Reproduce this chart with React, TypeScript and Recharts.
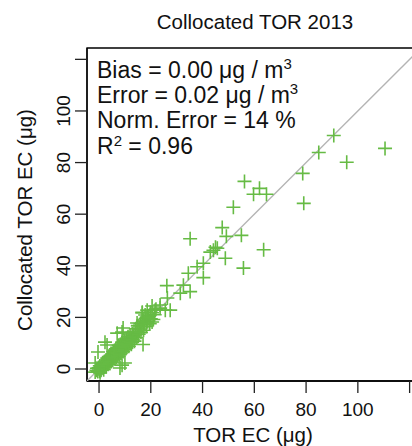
import { ScatterChart, Scatter, XAxis, YAxis, ReferenceArea } from 'recharts';

// TOR EC (x) vs collocated TOR EC (y)
const clusterX = [
  -1.5, -1, -0.8, -0.5, -0.2, 0, 0.2, 0.3, 0.5, 0.8, 1, 1.1, 1.3, 1.5, 1.6, 1.8, 2, 2, 2.2, 2.4, 2.5, 2.7, 2.8, 3, 3,
  3.2, 3.3, 3.5, 3.6, 3.8, 4, 4, 4.2, 4.4, 4.5, 4.7, 4.8, 5, 5, 5.2, 5.4, 5.5, 5.7, 5.8, 6, 6, 6.2, 6.4, 6.5, 6.6, 6.8,
  7, 7, 7.2, 7.3, 7.5, 7.6, 7.8, 8, 8,
  8.2, 8.4, 8.5, 8.7, 8.9, 9, 9.2, 9.3, 9.5, 9.7, 9.8, 10, 10, 10.3, 10.5, 10.6, 10.8, 11, 11.2, 11.4, 11.5, 11.8,
  12, 12.1, 12.4, 12.5, 12.8, 13, 13.2, 13.5, 13.7, 14,
  14.2, 14.5, 14.8, 15, 15.3, 15.6, 16, 16.2, 16.5, 17, 17.2, 17.6, 18, 18.3, 18.8, 19.2, 19.6, 20, 20.5, 21, 21.5, 22,
];
const clusterY = [
  -1.2, -0.5, 0.3, -1, 0.5, 0, -0.8, 1.2, 0.2, -0.5, 1, 0.3, 2, 1.2, 0.4, -0.3, 2.4, 1.5, 0.8, 3, 1.8, 2.6, 1, 3.5, 2.2,
  4.2, 2.9, 1.8, 3.6, 4.8, 3.1, 4.2, 2.4, 5.2, 3.8, 4.5, 2.9, 5.8, 4.6, 3.5, 5.2, 6.6, 4.1, 5.8, 7.2, 5, 3.9, 6.3, 7.8, 5.4, 4.6,
  7, 8.4, 6, 4.9, 7.7, 9.2, 6.5, 5.5, 8.3,
  7.1, 9.5, 6.2, 8.8, 7.6, 10.4, 8.2, 6.8, 9.6, 11.2, 8.6, 7.5, 10, 9, 11.8, 8.2, 10.5, 9.4, 12.5, 10.8, 8.8, 11.6,
  13.2, 10.2, 12, 9.6, 13.8, 11.4, 12.6, 14.5, 10.8, 13.2,
  15.6, 12.2, 14.4, 16.8, 13.5, 15.5, 17.6, 14.2, 16.4, 18.5, 15, 17.2, 19.6, 16.5, 18.3, 20.6, 17.6, 19.5, 21.8, 19.2, 21, 23.2,
];

const outlierX = [
  26.2, 31.4, 32.6, 35.2, 26.4, 23.6, 25.6, 27.5, 20.5, 19.8, 16.7, 17.8, 14.7, 8.9, 7, 9.3, 17, 12.8, 2.3, 3.1, -0.4,
  10, 8.1, 8.9, 0.4, -1.5, 23.6, 21.7, 18.6, 16.7, 18.6, 17, 20.5,
  35.2, 37.9, 34.5, 40.3, 40.3, 43, 44.2, 45.7, 45, 48.8, 47.6, 49.2, 55, 63.6, 55.8, 51.9, 56.2, 59.7, 62, 64.7,
  78.7, 79.1, 84.9, 90.7, 95.7, 110.5,
];
const outlierY = [
  32.3, 29.4, 32.5, 30, 27.5, 24.8, 22.8, 22.8, 24.4, 22, 21.7, 20.9, 17.8, 14.3, 13.9, 15.9, 9.5, 10.4, 10.4, 9.3, 6.6,
  2.3, 0.4, 1.5, -1.5, 2.3, 23.6, 22.8, 22.8, 22, 20.1, 19, 18.2,
  50.5, 39.6, 37.1, 41, 35.4, 45.3, 46, 46.8, 47.2, 42.9, 54.8, 51.4, 51.8, 46.2, 39.1, 62.7, 72.7, 67.7, 70, 67.7,
  75.8, 64.2, 83.9, 90.5, 80.1, 85.5,
];

const AXIS_TICKS = [0, 20, 40, 60, 80, 100, 120];
const LABELLED_TICKS = [0, 20, 40, 60, 80, 100];
const DOMAIN: [number, number] = [-4.65, 124.4];

const points = [
  ...clusterX.map((x, i) => ({ x, y: clusterY[i] })),
  ...outlierX.map((x, i) => ({ x, y: outlierY[i] })),
];
const oneToOne = [
  { x: DOMAIN[0], y: DOMAIN[0] },
  { x: DOMAIN[1], y: DOMAIN[1] },
];

const FONT = '"Liberation Sans", Arial, Helvetica, sans-serif';
const GREEN = '#66bb44';

function Cross({ cx, cy }: { cx?: number; cy?: number }) {
  if (cx == null || cy == null) return <g />;
  return (
    <path
      d={`M${cx - 7},${cy}H${cx + 7}M${cx},${cy - 7}V${cy + 7}`}
      stroke={GREEN}
      strokeWidth={1.6}
      fill="none"
    />
  );
}

// R drops the last label (120) because it falls on the plot edge
function XTick({ x, payload }: { x?: number; payload?: { value: number } }) {
  if (!payload || !LABELLED_TICKS.includes(payload.value)) return <g />;
  return (
    <text x={x} y={416} textAnchor="middle" fontSize={19} fontFamily={FONT} fill="#111">
      {payload.value}
    </text>
  );
}

function YTick({ y, payload }: { y?: number; payload?: { value: number } }) {
  if (!payload || !LABELLED_TICKS.includes(payload.value)) return <g />;
  return (
    <text
      x={70}
      y={y}
      transform={`rotate(-90 70 ${y})`}
      textAnchor="middle"
      fontSize={19}
      fontFamily={FONT}
      fill="#111"
    >
      {payload.value}
    </text>
  );
}

export default function App() {
  return (
    <div style={{ position: 'absolute', left: 0, top: 0, width: 412, height: 446, overflow: 'hidden', background: '#fff' }}>
      <ScatterChart width={421} height={446} margin={{ top: 48, right: 0, bottom: 0, left: 0 }}>
        <XAxis
          type="number"
          dataKey="x"
          domain={DOMAIN}
          ticks={AXIS_TICKS}
          allowDataOverflow
          height={65}
          tickSize={12}
          tick={<XTick />}
          axisLine={{ stroke: '#000', strokeWidth: 1.3 }}
          tickLine={{ stroke: '#222', strokeWidth: 1.3 }}
        />
        <YAxis
          type="number"
          dataKey="y"
          domain={DOMAIN}
          ticks={AXIS_TICKS}
          allowDataOverflow
          width={87}
          tickSize={12}
          tick={<YTick />}
          axisLine={{ stroke: '#000', strokeWidth: 1.3 }}
          tickLine={{ stroke: '#222', strokeWidth: 1.3 }}
        />
        <ReferenceArea
          x1={DOMAIN[0]}
          x2={DOMAIN[1]}
          y1={DOMAIN[0]}
          y2={DOMAIN[1]}
          fill="none"
          stroke="#000"
          strokeWidth={1.3}
        />
        <Scatter
          data={oneToOne}
          line={{ stroke: '#b4b4b4', strokeWidth: 1.3 }}
          shape={() => <g />}
          isAnimationActive={false}
        />
        <Scatter data={points} shape={<Cross />} isAnimationActive={false} />
      </ScatterChart>
      <svg
        width={412}
        height={446}
        style={{ position: 'absolute', left: 0, top: 0, pointerEvents: 'none' }}
        fontFamily={FONT}
        fill="#111"
      >
        <text x={255} y={29} textAnchor="middle" fontSize={20.5}>
          Collocated TOR 2013
        </text>
        <text x={253} y={442} textAnchor="middle" fontSize={20.5}>
          TOR EC (μg)
        </text>
        <text x={32} y={220} transform="rotate(-90 32 220)" textAnchor="middle" fontSize={20.5}>
          Collocated TOR EC (μg)
        </text>
        <g fontSize={23}>
          <text x={97} y={78}>
            Bias = 0.00 μg / m<tspan dy={-9} fontSize={15}>3</tspan>
          </text>
          <text x={97} y={103}>
            Error = 0.02 μg / m<tspan dy={-9} fontSize={15}>3</tspan>
          </text>
          <text x={97} y={128}>
            Norm. Error = 14 %
          </text>
          <text x={97} y={154}>
            R<tspan dy={-8} fontSize={15}>2</tspan>
            <tspan dy={8}> = 0.96</tspan>
          </text>
        </g>
      </svg>
    </div>
  );
}
